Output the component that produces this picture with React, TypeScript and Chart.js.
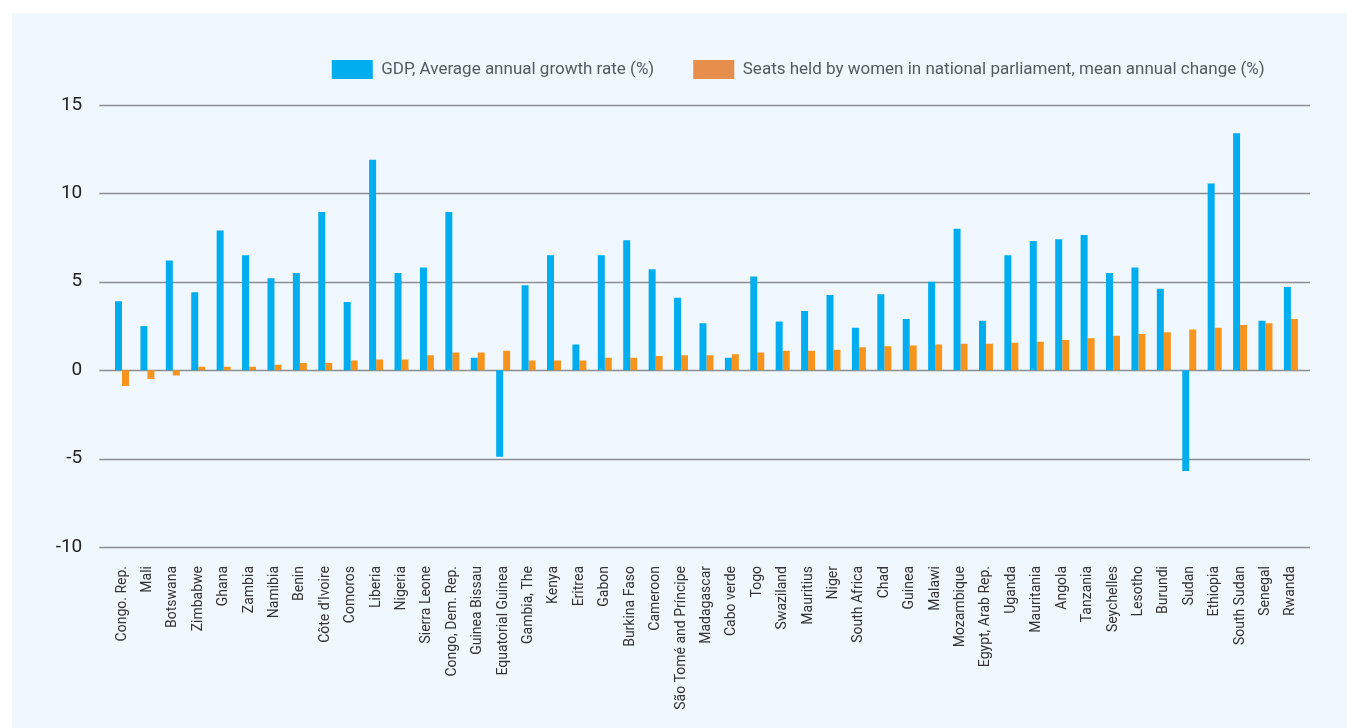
import React, { useEffect, useRef } from "react";
import { Chart, registerables } from "chart.js";

Chart.register(...registerables);

const countries: string[] = [
  "Congo. Rep.", "Mali", "Botswana", "Zimbabwe", "Ghana", "Zambia", "Namibia", "Benin",
  "Côte d'Ivoire", "Comoros", "Liberia", "Nigeria", "Sierra Leone", "Congo, Dem. Rep.",
  "Guinea Bissau", "Equatorial Guinea", "Gambia, The", "Kenya", "Eritrea", "Gabon",
  "Burkina Faso", "Cameroon", "São Tomé and Príncipe", "Madagascar", "Cabo verde", "Togo",
  "Swaziland", "Mauritius", "Niger", "South Africa", "Chad", "Guinea", "Malawi",
  "Mozambique", "Egypt, Arab Rep.", "Uganda", "Mauritania", "Angola", "Tanzania",
  "Seychelles", "Lesotho", "Burundi", "Sudan", "Ethiopia", "South Sudan", "Senegal", "Rwanda",
];

const gdpGrowth: number[] = [
  3.9, 2.5, 6.2, 4.4, 7.9, 6.5, 5.2, 5.5, 8.95, 3.85, 11.9, 5.5, 5.8, 8.95, 0.7, -4.9,
  4.8, 6.5, 1.45, 6.5, 7.35, 5.7, 4.1, 2.65, 0.7, 5.3, 2.75, 3.35, 4.25, 2.4, 4.3, 2.9,
  5.0, 8.0, 2.8, 6.5, 7.3, 7.4, 7.65, 5.5, 5.8, 4.6, -5.7, 10.55, 13.4, 2.8, 4.7,
];

const seatsChange: number[] = [
  -0.9, -0.5, -0.3, 0.2, 0.2, 0.2, 0.3, 0.4, 0.4, 0.55, 0.6, 0.6, 0.85, 1.0, 1.0, 1.1,
  0.55, 0.55, 0.55, 0.7, 0.7, 0.8, 0.85, 0.85, 0.9, 1.0, 1.1, 1.1, 1.15, 1.3, 1.35, 1.4,
  1.45, 1.5, 1.5, 1.55, 1.6, 1.7, 1.8, 1.95, 2.05, 2.15, 2.3, 2.4, 2.55, 2.65, 2.9,
];

const seriesNames: string[] = [
  "GDP, Average annual growth rate (%)",
  "Seats held by women in national parliament, mean annual change (%)",
];

const yTickMin = -10;
const yTickMax = 15;
const yTickStep = 5;

const BLUE = "#00aeef";
const ORANGE = "#f7941e";
const ORANGE_LEGEND = "#e68e4b";
const FONT = "Roboto, 'Noto Sans', sans-serif";

const gridPlugin = {
  id: "extendedGrid",
  beforeDatasetsDraw(chart: any) {
    const y = chart.scales.y;
    const { left, right } = chart.chartArea;
    const ctx = chart.ctx;
    ctx.save();
    ctx.strokeStyle = "#8a8e92";
    ctx.lineWidth = 1.4;
    for (const t of y.ticks) {
      if (t.value > yTickMax) continue;
      const py = Math.round(y.getPixelForValue(t.value)) + 0.5;
      ctx.beginPath();
      ctx.moveTo(left - 10, py);
      ctx.lineTo(right + 6.5, py);
      ctx.stroke();
    }
    ctx.restore();
  },
};

export default function App() {
  const ref = useRef<HTMLCanvasElement | null>(null);

  useEffect(() => {
    if (!ref.current) return;
    const chart = new Chart(ref.current, {
      type: "bar",
      data: {
        labels: countries,
        datasets: [
          {
            label: seriesNames[0],
            data: gdpGrowth,
            backgroundColor: BLUE,
            categoryPercentage: 0.55,
            barPercentage: 1.0,
          },
          {
            label: seriesNames[1],
            data: seatsChange,
            backgroundColor: ORANGE,
            categoryPercentage: 0.55,
            barPercentage: 1.0,
          },
        ],
      },
      options: {
        responsive: false,
        animation: false,
        layout: { padding: { top: 8, right: 43.4, bottom: 0, left: 0 } },
        plugins: {
          tooltip: { enabled: false },
          legend: {
            position: "top",
            align: "end",
            fullSize: true,
            labels: {
              boxWidth: 41,
              boxHeight: 19,
              padding: 39,
              color: "#555a5e",
              font: { family: FONT, size: 17 },
              generateLabels: (c: any) => {
                const items = (Chart as any).defaults.plugins.legend.labels.generateLabels(c);
                return items.map((it: any, i: number) => ({
                  ...it,
                  fillStyle: i === 0 ? BLUE : ORANGE_LEGEND,
                  strokeStyle: "transparent",
                  lineWidth: 0,
                }));
              },
            },
          },
        },
        scales: {
          x: {
            grid: { display: false, drawTicks: false },
            border: { display: false },
            ticks: {
              autoSkip: false,
              maxRotation: 90,
              minRotation: 90,
              padding: 19,
              color: "#333333",
              font: { family: FONT, size: 14 },
            },
            afterFit: (s: any) => {
              s.height = 181;
            },
          },
          y: {
            min: yTickMin,
            max: 15.9,
            grid: { display: false, drawTicks: false },
            border: { display: false },
            ticks: {
              stepSize: yTickStep,
              includeBounds: false,
              padding: 27,
              color: "#222222",
              font: { family: FONT, size: 19 },
              callback: (v: any) => (Number(v) > yTickMax ? "" : String(v)),
            },
            afterFit: (s: any) => {
              s.width = 97.3;
            },
          },
        },
      },
      plugins: [gridPlugin],
    });
    return () => chart.destroy();
  }, []);

  return (
    <div style={{ position: "fixed", left: 0, top: 0, right: 0, bottom: 0, background: "#ffffff" }}>
      <div
        style={{
          position: "absolute",
          left: 12,
          top: 13,
          right: 0,
          bottom: 0,
          background: "#f0f7fd",
          overflow: "hidden",
        }}
      >
        <canvas ref={ref} width={1335} height={715} style={{ display: "block" }} />
      </div>
    </div>
  );
}
